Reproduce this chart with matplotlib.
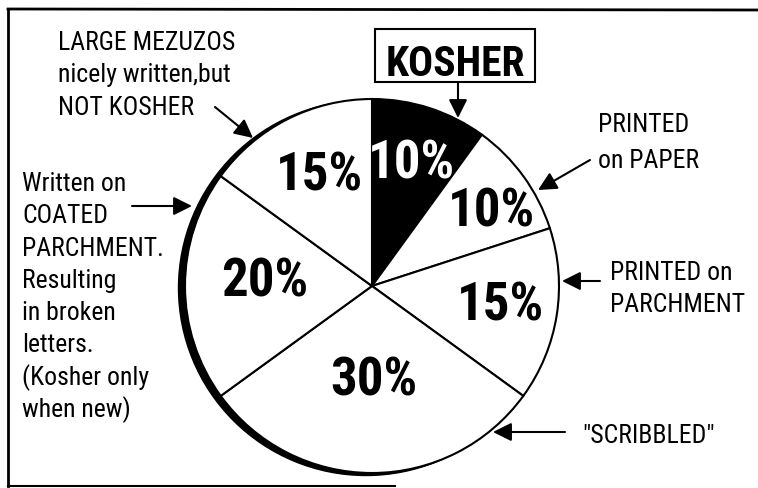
import os
import matplotlib
matplotlib.use('Agg')
import matplotlib.pyplot as plt
from matplotlib import font_manager
from matplotlib.font_manager import FontProperties
from matplotlib.patches import Circle, Rectangle, ArrowStyle

# share of mezuzos in each group, clockwise from 12 o'clock
categories = ['KOSHER', 'PRINTED on PAPER', 'PRINTED on PARCHMENT', '"SCRIBBLED"',
              'Written on COATED PARCHMENT', 'LARGE MEZUZOS']
shares = [10, 10, 15, 30, 20, 15]

side_notes = [
    ['LARGE MEZUZOS', 'nicely written,but', 'NOT KOSHER'],
    ['Written on', 'COATED', 'PARCHMENT.', 'Resulting', 'in broken', 'letters.',
     '(Kosher only', 'when new)'],
    ['PRINTED', 'on PAPER'],
    ['PRINTED on', 'PARCHMENT'],
    ['"SCRIBBLED"'],
]


def narrow_font(candidates, weight):
    # look for a condensed face on disk, else let matplotlib pick DejaVu condensed
    files = {os.path.basename(f.fname).lower().replace('-', '').replace('_', ''): f.fname
             for f in font_manager.fontManager.ttflist}
    for c in candidates:
        if c in files:
            return FontProperties(fname=files[c])
    return FontProperties(family='DejaVu Sans', stretch='condensed', weight=weight)


bold_fp = narrow_font(['liberationsansnarrowbold.ttf', 'robotocondensedbold.ttf',
                       'notosanscondensedbold.ttf', 'opensanscondensedbold.ttf',
                       'dejavusanscondensedbold.ttf'], 'bold')
reg_fp = narrow_font(['liberationsansnarrowregular.ttf', 'robotocondensedregular.ttf',
                      'notosanscondensed.ttf', 'notosanscondensedregular.ttf',
                      'opensanscondensedregular.ttf', 'dejavusanscondensed.ttf'], 'normal')

W, H = 758, 489
fig = plt.figure(figsize=(W / 100, H / 100), dpi=100)
ax = fig.add_axes([0, 0, 1, 1])

cx, cy, R = 372, 202, 187

# dark rim on the left side: a black disc peeking out from behind the pie
ax.add_patch(Circle((cx - 6, cy - 2), R + 0.5, color='black', zorder=1))

colors = ['black'] + ['white'] * 5
wedges, _ = ax.pie(shares, startangle=90, counterclock=False, center=(cx, cy),
                   radius=R, colors=colors,
                   wedgeprops=dict(edgecolor='black', linewidth=1.5, zorder=2))

# percentage labels inside the slices (baseline positions)
pct_pos = [(412, 310), (492, 262), (501, 168), (374, 93), (265, 192), (320, 298)]
for v, (x, y), c in zip(shares, pct_pos, colors):
    ax.text(x, y, f'{v}%', ha='center', va='baseline', fontproperties=bold_fp,
            fontsize=38, color='white' if c == 'black' else 'black', zorder=5)

# KOSHER tag
ax.add_patch(Rectangle((375, 406), 160, 53, facecolor='white', edgecolor='black',
                       linewidth=1.5, zorder=3))
ax.text(455, 413, categories[0], ha='center', va='baseline', fontproperties=bold_fp,
        fontsize=30, zorder=4)

# side notes: left x, first baseline, line pitch
note_pos = [(58, 439, 32.5), (22, 298, 32.3), (598, 357, 36), (610, 209, 32), (582, 46, 0)]
for lines, (x, y, pitch) in zip(side_notes, note_pos):
    for i, line in enumerate(lines):
        ax.text(x, y - i * pitch, line, ha='left', va='baseline',
                fontproperties=reg_fp, fontsize=18.5, zorder=4)

# pointer arrows: (tail, tip)
arrows = [
    ((458, 406), (458, 370)),
    ((590, 328), (538, 298)),
    ((600, 207), (562, 207)),
    ((565, 56), (493, 56)),
    ((132, 282), (192, 282)),
    ((215, 381), (253, 350)),
]
head = ArrowStyle('-|>', head_length=0.8, head_width=0.4)
for tail, tip in arrows:
    ax.annotate('', xy=tip, xytext=tail, zorder=6,
                arrowprops=dict(arrowstyle=head, mutation_scale=14, color='black',
                                linewidth=1.5, shrinkA=0, shrinkB=0))

# frame lines
ax.plot([8, W], [479, 478], color='black', linewidth=2, clip_on=False)
ax.plot([8, 8], [479, 2], color='black', linewidth=2, clip_on=False)
ax.plot([8, 395], [2, 2], color='black', linewidth=1.5, clip_on=False)

ax.set_xlim(0, W)
ax.set_ylim(0, H)
ax.set_aspect('equal')
ax.axis('off')

fig.savefig('out.png', dpi=100, facecolor='white')
